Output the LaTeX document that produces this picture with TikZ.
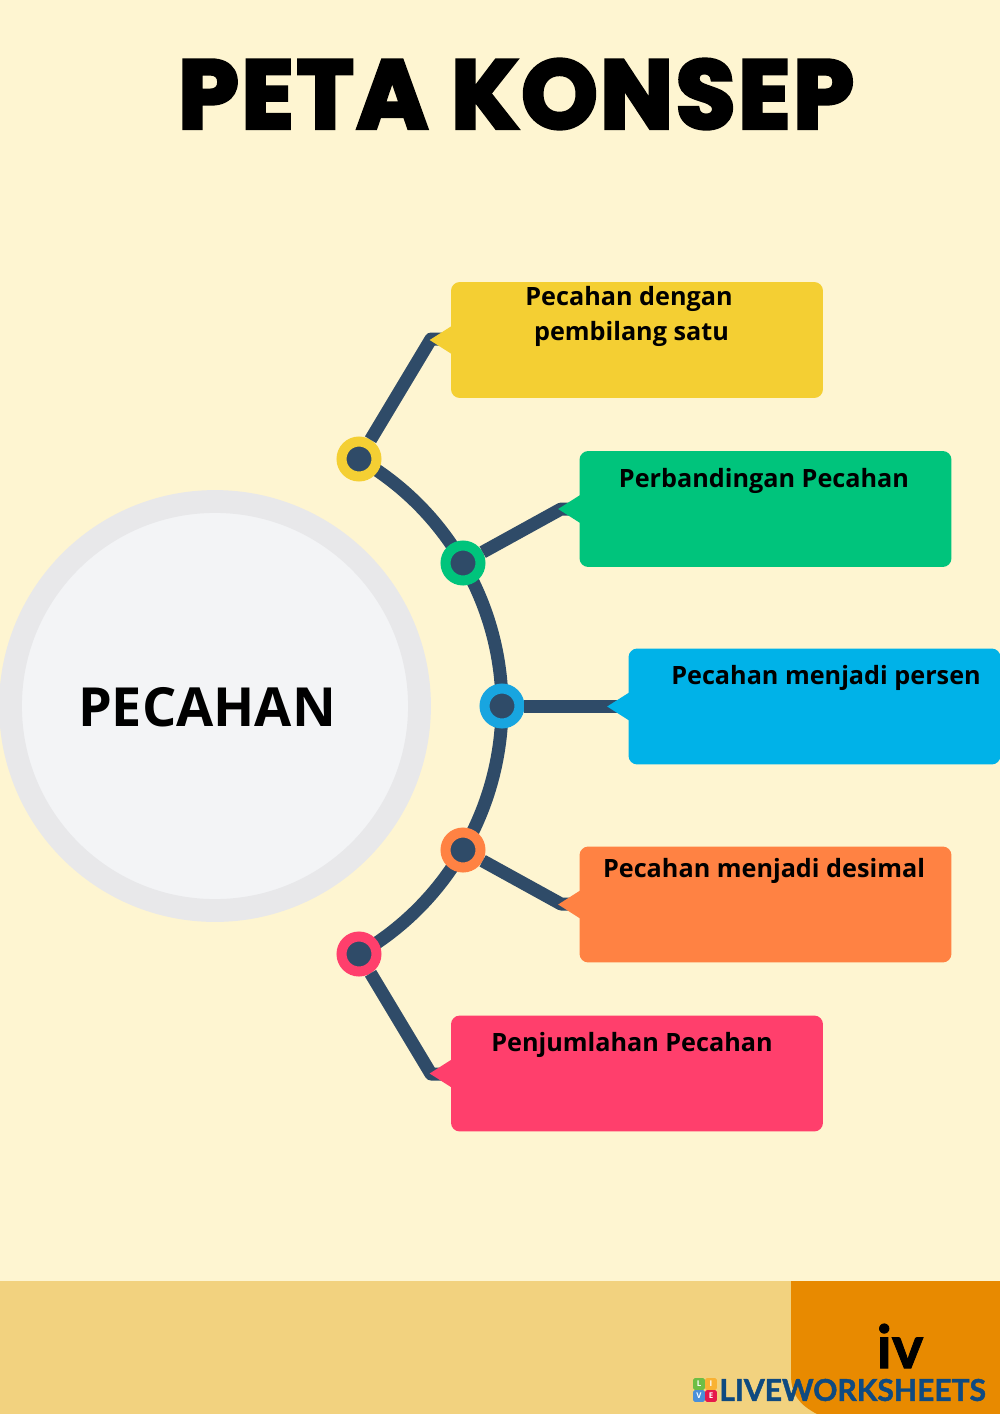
\documentclass[tikz,border=0pt]{standalone}
\usepackage{fontspec}
\setmainfont{Open Sans}
\newfontfamily\titlefont[FakeBold=4,LetterSpace=3]{Poppins}
\newfontfamily\logofont[FakeBold=1.5]{Lato}
\usetikzlibrary{calc,backgrounds}
\definecolor{paper}{HTML}{FEF5D1}
\definecolor{band}{HTML}{F2D27F}
\definecolor{corner}{HTML}{E88A00}
\definecolor{navy}{HTML}{2F4B68}
\definecolor{logoblue}{HTML}{0F4A80}
\definecolor{ringgrey}{HTML}{E8E8EA}
\definecolor{hubgrey}{HTML}{F3F4F6}
\definecolor{cyellow}{HTML}{F4CF33}
\definecolor{cgreen}{HTML}{00C47C}
\definecolor{cblue}{HTML}{00B2E8}
\definecolor{cdot}{HTML}{18A5E0}
\definecolor{corange}{HTML}{FF8243}
\definecolor{cpink}{HTML}{FF3F6C}
\definecolor{logogreen}{HTML}{6DBE45}
\definecolor{logoyellow}{HTML}{F9B233}
\definecolor{logosky}{HTML}{4A90D9}
\definecolor{logored}{HTML}{E6194B}
\begin{document}
\begin{tikzpicture}[x=0.02cm, y=-0.02cm]
  \tikzstyle{dot}=[circle,draw,fill=navy,line width=5.7pt,minimum size=19.9pt,inner sep=0pt]
  \tikzstyle{arm}=[draw=navy,line width=7.4pt,line join=round]
  \tikzstyle{topic}=[rectangle,rounded corners=5pt,minimum width=211.7pt,minimum height=66pt,inner sep=0pt]
  \tikzstyle{caption}=[font=\bfseries\fontsize{14.35}{20}\selectfont,align=center,inner sep=0pt]
  \tikzstyle{logobox}=[rectangle,rounded corners=0.8pt,minimum size=6.6pt,inner sep=0pt,text=white,font=\bfseries\fontsize{4.5}{5}\selectfont]
  \useasboundingbox (0,0) rectangle (1000,1414);
  \begin{scope}[on background layer]
    \fill[paper] (0,0) rectangle (1000,1414);
    \fill[band] (0,1281) rectangle (1000,1414);
    \fill[corner] (791,1281) -- (1000,1281) -- (1000,1414) -- (817,1414)
       .. controls (800,1405) and (791,1395) .. (791,1375) -- cycle;
  \end{scope}
  \node[inner sep=0pt,font=\titlefont\bfseries\fontsize{55}{66}\selectfont] (title) at (516,94) {PETA KONSEP};
  % hub
  \node[circle,fill=hubgrey,draw=ringgrey,line width=13pt,minimum size=232.8pt,inner sep=0pt] (hub) at (215,706) {};
  \node[inner sep=0pt,font=\bfseries\fontsize{30.7}{36}\selectfont] (hubtext) at (207,707) {PECAHAN};
  % dots on the arc
  \node[dot,draw=cyellow] (dotA) at (359,459) {};
  \node[dot,draw=cgreen] (dotB) at (463,563) {};
  \node[dot,draw=cdot] (dotC) at (502,706) {};
  \node[dot,draw=corange] (dotD) at (463,850) {};
  \node[dot,draw=cpink] (dotE) at (359,954) {};
  \begin{scope}[on background layer]
    \draw[arm] (dotA.center) to[bend left=15,looseness=.87] (dotB.center);
    \draw[arm] (dotB.center) to[bend left=15,looseness=.87] (dotC.center);
    \draw[arm] (dotC.center) to[bend left=15,looseness=.87] (dotD.center);
    \draw[arm] (dotD.center) to[bend left=15,looseness=.87] (dotE.center);
  \end{scope}
  % arms
  \coordinate (elbowA) at (431,339);
  \coordinate (elbowB) at (561,509);
  \coordinate (elbowC) at (620,706);
  \coordinate (elbowD) at (561,904);
  \coordinate (elbowE) at (431,1074);
  \draw[arm] (dotA) -- (elbowA) -- (445,339);
  \draw[arm] (dotB) -- (elbowB) -- (575,509);
  \draw[arm] (dotC) -- (elbowC);
  \draw[arm] (dotD) -- (elbowD) -- (575,904);
  \draw[arm] (dotE) -- (elbowE) -- (445,1074);
  % boxes
  \node[topic,fill=cyellow] (boxA) at (637,340) {};
  \node[topic,fill=cgreen] (boxB) at (765.5,509) {};
  \node[topic,fill=cblue] (boxC) at (814.5,706.5) {};
  \node[topic,fill=corange] (boxD) at (765.5,904.5) {};
  \node[topic,fill=cpink] (boxE) at (637,1073.5) {};
  \fill[cyellow] ($(boxA.west)+(1,-14)$) -- ++(-22,14) -- ++(22,14) -- cycle;
  \fill[cgreen] ($(boxB.west)+(1,-14)$) -- ++(-22,14) -- ++(22,14) -- cycle;
  \fill[cblue] ($(boxC.west)+(1,-14)$) -- ++(-22,14) -- ++(22,14) -- cycle;
  \fill[corange] ($(boxD.west)+(1,-14)$) -- ++(-22,14) -- ++(22,14) -- cycle;
  \fill[cpink] ($(boxE.west)+(1,-14)$) -- ++(-22,14) -- ++(22,14) -- cycle;
  \node[caption] (textA) at (629,316.5) {Pecahan dengan\\\hspace*{2.8pt}pembilang satu};
  \node[caption] (textB) at (764,480.5) {Perbandingan Pecahan};
  \node[caption] (textC) at (826,677.5) {Pecahan menjadi persen};
  \node[caption] (textD) at (764,870.5) {Pecahan menjadi desimal};
  \node[caption] (textE) at (632,1044.5) {Penjumlahan Pecahan};
  % footer
  \node[inner sep=0pt,font=\logofont\bfseries\fontsize{34}{40}\selectfont] (page) at (900,1346) {iv};
  \node[inner sep=0pt,anchor=west,text=logoblue,font=\logofont\bfseries\fontsize{17.1}{20}\selectfont] (logo) at (719,1390) {LIVEWORKSHEETS};
  \node[logobox,fill=logogreen] (logoL) at (699,1384) {L};
  \node[logobox,fill=logoyellow] (logoI) at (711,1384) {I};
  \node[logobox,fill=logosky] (logoV) at (699,1396) {V};
  \node[logobox,fill=logored] (logoE) at (711,1396) {E};
\end{tikzpicture}
\end{document}
